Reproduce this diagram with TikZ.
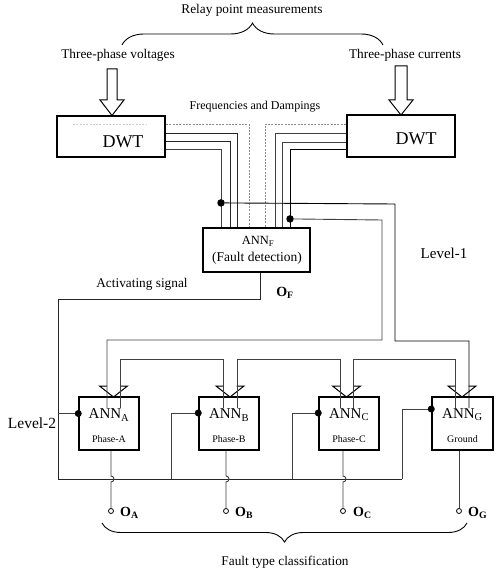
\documentclass[tikz,border=0pt]{standalone}
\usepackage{fontspec}
\setmainfont{Liberation Serif}
\usetikzlibrary{decorations.pathreplacing}
\begin{document}
\begin{tikzpicture}[x=1pt,y=-1pt,
  font=\fontsize{13.3}{15}\selectfont,
  bigbox/.style={draw,rectangle,line width=2.2pt,inner sep=0pt},
  annbox/.style={draw,rectangle,line width=1.5pt,inner sep=0pt,minimum width=60pt,minimum height=53pt},
  wire/.style={line width=0.9pt,black!85},
  graywire/.style={line width=0.9pt,black!75},
  dashwire/.style={line width=0.8pt,black!45,dash pattern=on 2pt off 1.3pt},
  hollow/.style={line width=1pt,fill=white,line join=miter},
  junction/.style={circle,fill=black,inner sep=0pt,minimum size=7.5pt},
  term/.style={circle,draw,line width=0.8pt,fill=white,inner sep=0pt,minimum size=5pt},
  lbl/.style={inner sep=0pt},
  brace/.style={decorate,line width=0.9pt},
  hhead/.pic={\draw[hollow] (-6.5,-11) -- (-14,-11) -- (0,0) -- (14,-11) -- (6.5,-11);}
]
\useasboundingbox (0,0) rectangle (495,585);

% ---- top labels and brace
\node[lbl] (relay) at (252,10) {Relay point measurements};
\coordinate (brL) at (122,45);
\coordinate (brR) at (383,45);
\draw[brace,decoration={brace,amplitude=22pt}] (brL) -- (brR);
\node[lbl] (tpv) at (118,55) {Three-phase voltages};
\node[lbl] (tpc) at (405,55) {Three-phase currents};

% ---- DWT boxes
\node[bigbox,minimum width=108pt,minimum height=41pt] (dwtL) at (111,136.5) {};
\node[bigbox,minimum width=108pt,minimum height=42pt] (dwtR) at (401,136) {};
\node[lbl,font=\fontsize{18}{20}\selectfont] (dwtLt) at (123,142) {DWT};
\node[lbl,font=\fontsize{18}{20}\selectfont] (dwtRt) at (416,139) {DWT};
\draw[dashwire,black!20] (73,124) -- (147,124);

% ---- hollow input arrows
\draw[hollow] (107,69) -- (117,69) -- (117,100) -- (124,100) -- (112,115.5) -- (100,100) -- (107,100) -- cycle;
\draw[hollow] (395,66) -- (407,66) -- (407,100) -- (413,100) -- (401,115) -- (389,100) -- (395,100) -- cycle;

\node[lbl,font=\fontsize{12}{14}\selectfont] (fd) at (255,107) {Frequencies and Dampings};

% ---- ANN_F
\node[bigbox,minimum width=107pt,minimum height=44pt] (annF) at (256.5,250) {};
\node[lbl,font=\fontsize{12.5}{14}\selectfont] (annFt) at (258,241) {ANN\textsubscript{F}};
\node[lbl,font=\fontsize{13.5}{15}\selectfont] (annFd) at (257,258) {(Fault detection)};

% ---- wires from DWT to ANN_F
\draw[dashwire] ([yshift=12.5pt]dwtL.east) -| ([xshift=-7.5pt]annF.north);
\draw[wire] ([yshift=3.5pt]dwtL.east) -| ([xshift=-19.5pt]annF.north);
\draw[wire] ([yshift=-4.5pt]dwtL.east) -| ([xshift=-26.5pt]annF.north);
\draw[graywire] ([yshift=-12.5pt]dwtL.east) -| ([xshift=-35.5pt]annF.north);
\draw[dashwire] ([yshift=12pt]dwtR.west) -| ([xshift=8.5pt]annF.north);
\draw[graywire] ([yshift=3pt]dwtR.west) -| ([xshift=18.5pt]annF.north);
\draw[graywire] ([yshift=-6pt]dwtR.west) -| ([xshift=25.5pt]annF.north);
\draw[wire,black] ([yshift=-13pt]dwtR.west) -| ([xshift=33.5pt]annF.north);

% ---- taps
\node[junction] (jl) at ([xshift=-35.5pt,yshift=24pt]annF.north) {};
\node[junction] (jr) at ([xshift=33.5pt,yshift=8pt]annF.north) {};

% ---- level 2 boxes
\node[annbox] (annA) at (109,423.5) {};
\node[annbox] (annB) at (229,423.5) {};
\node[annbox] (annC) at (349,423.5) {};
\node[annbox,minimum width=61pt] (annG) at (462.5,423.5) {};

\foreach \n/\s/\t in {A/A/Phase-A,B/B/Phase-B,C/C/Phase-C,G/G/Ground}{
  \node[lbl,font=\fontsize{15}{17}\selectfont] (lab\n) at ([yshift=8.5pt]ann\n.center) {ANN\textsubscript{\s}};
  \node[lbl,font=\fontsize{10}{12}\selectfont] (ph\n) at ([yshift=-15.5pt]ann\n.center) {\t};
}

% ---- arrow heads into level-2 boxes
\coordinate (tipA) at (113.5,397);
\coordinate (tipB) at (230,397);
\coordinate (tipC) at (346.5,397);
\coordinate (tipG) at (462,397);
\pic at (tipA) {hhead};
\pic at (tipB) {hhead};
\pic at (tipC) {hhead};
\pic at (tipG) {hhead};

% ---- distribution lines (double-line arrows)
\draw[wire,black] (jl) -- (395,204) -- (395,341) -- (469,341) -- ([xshift=7pt,yshift=-11pt]tipG);
\draw[graywire] (jr) -- (382,220) -- (382,340) -- (107,340) -- ([xshift=-6.5pt,yshift=-11pt]tipA);
\draw[graywire] ([xshift=6.5pt,yshift=-11pt]tipA) -- (120,359) -- (223,359) -- ([xshift=-7pt,yshift=-11pt]tipB);
\draw[graywire] ([xshift=7pt,yshift=-11pt]tipB) -- (237,359) -- (340,359) -- ([xshift=-6.5pt,yshift=-11pt]tipC);
\draw[graywire] ([xshift=6.5pt,yshift=-11pt]tipC) -- (353,359) -- (455,359) -- ([xshift=-7pt,yshift=-11pt]tipG);

% ---- activating signal and bus
\node[lbl] (act) at (142,284) {Activating signal};
\node[lbl,font=\fontsize{14}{16}\selectfont\bfseries] (oF) at (285,293) {O\textsubscript{F}};
\draw[wire] ([xshift=3.5pt]annF.south) -- (260,299) -- (58,299) -- (58,479) -- (402,479);

\node[junction,minimum size=7pt] (inA) at ([yshift=10pt]annA.west) {};
\node[junction,minimum size=7pt] (inB) at ([yshift=10.5pt]annB.west) {};
\node[junction,minimum size=7pt] (inC) at ([yshift=10.5pt]annC.west) {};
\node[junction,minimum size=7pt] (inG) at ([yshift=14.5pt]annG.west) {};
\draw[graywire] (58,413.5) -- (inA);
\draw[graywire] (171,479) |- (inB);
\draw[graywire] (292,479) |- (inC);
\draw[graywire] (402,479) |- (inG);

\node[lbl,font=\fontsize{15.5}{17}\selectfont] (lv2) at (32,423) {Level-2};
\node[lbl,font=\fontsize{15}{17}\selectfont] (lv1) at (444,253) {Level-1};

% ---- outputs
\node[term] (oA) at (111,511) {};
\node[term] (oB) at (226,511) {};
\node[term] (oC) at (343,511) {};
\node[term] (oG) at (459,511) {};
\draw[graywire] ([xshift=2pt]annA.south) -- (111,476) arc[start angle=90,end angle=-90,radius=3pt] -- (oA.north);
\draw[graywire] ([xshift=-3pt]annB.south) -- (226,476) arc[start angle=90,end angle=-90,radius=3pt] -- (oB.north);
\draw[graywire] ([xshift=-6pt]annC.south) -- (343,476) arc[start angle=90,end angle=-90,radius=3pt] -- (oC.north);
\draw[graywire] ([xshift=-3.5pt]annG.south) -- (oG.north);

\foreach \n/\x in {A/120,B/235,C/353,G/468}{
  \node[lbl,anchor=west,font=\fontsize{14}{16}\selectfont\bfseries] (ol\n) at (\x,513) {O\textsubscript{\n}};
}

% ---- bottom brace
\coordinate (bbR) at (467,523);
\coordinate (bbL) at (102,523);
\draw[brace,decoration={brace,amplitude=19pt}] (bbR) -- (bbL);
\node[lbl] (ftc) at (285,562) {Fault type classification};
\end{tikzpicture}
\end{document}
